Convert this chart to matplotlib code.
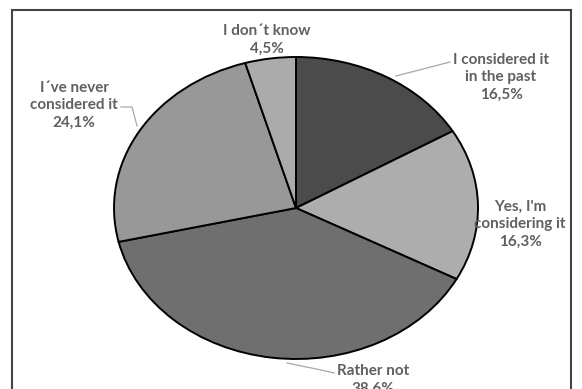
import numpy as np
import matplotlib
matplotlib.use("Agg")
import matplotlib.pyplot as plt
from matplotlib.patches import Rectangle

labels = ["I considered it\nin the past", "Yes, I'm\nconsidering it", "Rather not",
          "I´ve never\nconsidered it", "I don´t know"]
values = [16.5, 16.3, 38.6, 24.1, 4.5]
value_labels = ["16,5%", "16,3%", "38,6%", "24,1%", "4,5%"]
colors = ["#4b4b4b", "#adadad", "#6f6f6f", "#989898", "#ababab"]

W, H = 582, 389
fig = plt.figure(figsize=(W / 100, H / 100), dpi=100)
fig.patch.set_facecolor("white")

def fx(x):
    return x / W

def fy(y):
    return 1 - y / H

# frame
fig.patches.append(Rectangle((fx(12), fy(400)), fx(571) - fx(12), fy(10) - fy(400),
                             transform=fig.transFigure, fill=False,
                             edgecolor="#444444", linewidth=1.5))

# pie axes (elliptical pie)
cx, cy, rx, ry = 296, 208, 182, 151
ax = fig.add_axes([fx(cx - rx), fy(cy + ry), 2 * rx / W, 2 * ry / H])
wedges, _ = ax.pie(values, startangle=90, counterclock=False, colors=colors,
                   wedgeprops=dict(edgecolor="black", linewidth=1.4))
ax.set_aspect("auto")
ax.set_xlim(-1.0, 1.0)
ax.set_ylim(-1.0, 1.0)
ax.axis("off")

txt_kw = dict(color="#606060", fontsize=11, fontweight="bold", family="Lato",
              ha="center", va="center", linespacing=1.3)

# label positions (pixel coords of text centre) and leader-line anchor
label_pos = [(501, 77), (520, 224), (373, 380), (74, 105), (267, 40)]
leader = [
    [(450, 62), (396, 76)],
    None,
    [(334, 373), (321, 370), (287, 363)],
    [(121, 107), (132, 107), (137, 126)],
    None,
]

for lab, vl, (px, py) in zip(labels, value_labels, label_pos):
    fig.text(fx(px), fy(py), lab + "\n" + vl, **txt_kw)

for pts in leader:
    if pts is None:
        continue
    xs = [fx(p[0]) for p in pts]
    ys = [fy(p[1]) for p in pts]
    fig.add_artist(plt.Line2D(xs, ys, transform=fig.transFigure,
                              color="#a8a8a8", linewidth=0.9))

fig.savefig("out.png", dpi=100, facecolor="white")
